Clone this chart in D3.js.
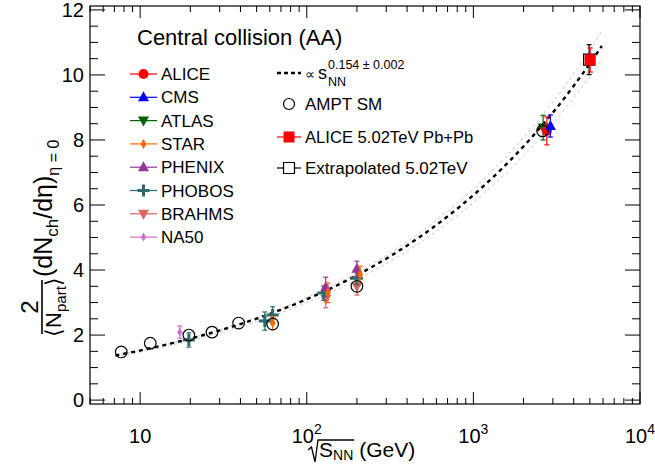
<!DOCTYPE html>
<html><head><meta charset="utf-8">
<script src="https://cdn.jsdelivr.net/npm/d3@7"></script>
<style>body{margin:0;background:#fff}svg{font-family:"Liberation Sans",Arial,Helvetica,sans-serif}</style>
</head><body><svg id="c" width="655" height="465"></svg>
<script>
// ---------- data ----------
const xDomain = [5, 10000];
const yDomain = [-0.12, 12.12];
const xMajorTicks = [10, 100, 1000, 10000];
const xTickExponents = ["", "2", "3", "4"];
const yMajorTicks = [0, 2, 4, 6, 8, 10, 12];

// [sqrt(sNN), value, error]
const aliceData  = [[2760, 8.28, 0.43]];
const cmsData    = [[2900, 8.43, 0.34]];
const atlasData  = [[2620, 8.38, 0.38]];
const starData   = [[62.4, 2.37, 0.2], [134, 3.3, 0.3], [209, 3.86, 0.26]];
const phenixData = [[130, 3.48, 0.3], [200, 4.04, 0.23]];
const phobosData = [[19.6, 1.85, 0.22], [56, 2.43, 0.28], [62.4, 2.62, 0.25], [126, 3.29, 0.22], [200, 3.75, 0.2]];
const brahmsData = [[130, 3.11, 0.27], [200, 3.5, 0.27]];
const na50Data   = [[17.3, 2.09, 0.19]];
const amptData   = [[7.7, 1.48], [11.5, 1.75], [19.6, 2.0], [27, 2.09], [39, 2.37], [62.4, 2.34], [200, 3.5], [2600, 8.28]];
const alice502Data = [[5020, 10.46, 0.37]];
const extrapData   = [[4950, 10.47, 0.46]];

// fit: dN/deta ∝ s^0.154  (= sqrtS^0.308)
const fitNorm = 0.751, fitExp = 0.154, fitRange = [7.1, 5900];
// grey uncertainty curves: [normalisation factor, exponent shift, pivot]
const bandUpper = [1.0, 0.003, 7];
const bandLower = [0.968, -0.0005, 7];

const legendLeft = ["ALICE", "CMS", "ATLAS", "STAR", "PHENIX", "PHOBOS", "BRAHMS", "NA50"];

// ---------- setup ----------
const svg = d3.select("#c");
const L = 90, R = 640, T = 6, B = 404;
const x = d3.scaleLog().domain(xDomain).range([L, R]);
const y = d3.scaleLinear().domain(yDomain).range([B, T]);

const styles = {
  ALICE:  {c: "#ff0000", m: "circle"},
  CMS:    {c: "#0000ff", m: "triUp"},
  ATLAS:  {c: "#006400", m: "triDown"},
  STAR:   {c: "#ff6600", m: "diamond"},
  PHENIX: {c: "#993399", m: "triUp"},
  PHOBOS: {c: "#2f6b6b", m: "cross"},
  BRAHMS: {c: "#d9665f", m: "triDown"},
  NA50:   {c: "#d46ad4", m: "diamondS"}
};
const seriesData = {ALICE: aliceData, CMS: cmsData, ATLAS: atlasData, STAR: starData,
  PHENIX: phenixData, PHOBOS: phobosData, BRAHMS: brahmsData, NA50: na50Data};

function markerPath(m) {
  switch (m) {
    case "circle": return d3.symbol(d3.symbolCircle, 80)();
    case "triUp": return "M0,-6L5.5,4L-5.5,4Z";
    case "triDown": return "M0,6L5.5,-4L-5.5,-4Z";
    case "diamond": return "M0,-5L3,0L0,5L-3,0Z";
    case "diamondS": return "M0,-4.5L2.6,0L0,4.5L-2.6,0Z";
    case "cross": return "M-1.5,-6H1.5V-1.5H6V1.5H1.5V6H-1.5V1.5H-6V-1.5H-1.5Z";
    case "square": return "M-5.5,-5.5H5.5V5.5H-5.5Z";
  }
}

// ---------- frame & axes ----------
const ax = svg.append("g").attr("stroke", "#000").attr("stroke-width", 1);
const xTicksAll = x.ticks().filter(v => v >= xDomain[0] && v <= xDomain[1]);
xTicksAll.forEach(v => {
  const major = xMajorTicks.includes(v);
  const len = major ? 12 : 6;
  ax.append("line").attr("x1", x(v)).attr("x2", x(v)).attr("y1", B).attr("y2", B - len);
  ax.append("line").attr("x1", x(v)).attr("x2", x(v)).attr("y1", T).attr("y2", T + len);
});
const yMinor = d3.range(0, 12.001, 0.5);
yMinor.forEach(v => {
  const major = yMajorTicks.includes(v);
  const len = major ? 15 : 8;
  ax.append("line").attr("x1", L).attr("x2", L + len).attr("y1", y(v)).attr("y2", y(v));
  ax.append("line").attr("x1", R).attr("x2", R - len).attr("y1", y(v)).attr("y2", y(v));
});
svg.append("rect").attr("x", L).attr("y", T).attr("width", R - L).attr("height", B - T)
  .attr("fill", "none").attr("stroke", "#000").attr("stroke-width", 1.2);

// tick labels
svg.append("g").selectAll("text").data(yMajorTicks).join("text")
  .attr("x", L - 6).attr("y", d => y(d) + 7).attr("text-anchor", "end")
  .attr("font-size", 20).text(d => d);
xMajorTicks.forEach((v, i) => {
  const t = svg.append("text").attr("x", x(v)).attr("y", 443).attr("text-anchor", "middle").attr("font-size", 20);
  t.append("tspan").text("10");
  if (xTickExponents[i]) t.append("tspan").attr("font-size", 14).attr("dy", -9).text(xTickExponents[i]);
});

// x-axis title: sqrt(S_NN) (GeV)
{
  const g = svg.append("g");
  const t = g.append("text").attr("x", 319).attr("y", 457).attr("font-size", 21);
  t.append("tspan").text("S");
  t.append("tspan").attr("font-size", 14).attr("dy", 3).text("NN");
  const t2 = g.append("text").attr("y", 457).attr("font-size", 21).text("(GeV)");
  const w = t.node().getComputedTextLength();
  t2.attr("x", 319 + w + 6);
  g.append("path").attr("d", `M308,450 L311.5,447 L315,462 L318,440 L${319 + w + 1},440`)
    .attr("fill", "none").attr("stroke", "#000").attr("stroke-width", 1.3);
}

// y-axis title (rotated)
{
  const g = svg.append("g").attr("transform", "rotate(-90)");
  g.append("text").attr("x", -307).attr("y", 38).attr("text-anchor", "middle").attr("font-size", 24).text("2");
  g.append("line").attr("x1", -334).attr("x2", -280).attr("y1", 42).attr("y2", 42).attr("stroke", "#000").attr("stroke-width", 1.6);
  const d = g.append("text").attr("x", -307).attr("y", 61).attr("text-anchor", "middle").attr("font-size", 22);
  d.append("tspan").text("⟨N");
  d.append("tspan").attr("font-size", 15).attr("dy", 5).text("part");
  d.append("tspan").attr("dy", -5).text("⟩");
  const m = g.append("text").attr("x", -277).attr("y", 52).attr("font-size", 25);
  m.append("tspan").text("(dN");
  m.append("tspan").attr("font-size", 17).attr("dy", 6).text("ch");
  m.append("tspan").attr("dy", -6).text("/dη)");
  m.append("tspan").attr("font-size", 16).attr("dy", 7).text("η = 0");
}

// ---------- fit curves ----------
const fitX = d3.range(0, 201).map(i => fitRange[0] * Math.pow(fitRange[1] / fitRange[0], i / 200));
const fitFn = v => fitNorm * Math.pow(v, 2 * fitExp);
const bandFn = (p) => v => fitFn(v) * p[0] * Math.pow(v / p[2], 2 * p[1]);
const line = f => d3.line().x(v => x(v)).y(v => y(f(v)))(fitX);
[bandUpper, bandLower].forEach(p => {
  svg.append("path").attr("d", line(bandFn(p))).attr("fill", "none")
    .attr("stroke", "#c8c8c8").attr("stroke-width", 1).attr("stroke-dasharray", "3,3");
});
svg.append("path").attr("d", line(fitFn)).attr("fill", "none")
  .attr("stroke", "#000").attr("stroke-width", 2.4).attr("stroke-dasharray", "4,4");

// ---------- data ----------
function errBars(g, data, color) {
  g.selectAll(null).data(data).join("g").each(function(d) {
    const s = d3.select(this), cx = x(d[0]);
    s.append("line").attr("x1", cx).attr("x2", cx).attr("y1", y(d[1] - d[2])).attr("y2", y(d[1] + d[2]))
      .attr("stroke", color).attr("stroke-width", 1.2);
    [d[1] - d[2], d[1] + d[2]].forEach(e => s.append("line").attr("x1", cx - 2.5).attr("x2", cx + 2.5)
      .attr("y1", y(e)).attr("y2", y(e)).attr("stroke", color).attr("stroke-width", 1.2));
  });
}
const dataG = svg.append("g");
errBars(dataG, extrapData, "#000");
dataG.selectAll(null).data(extrapData).join("path").attr("d", markerPath("square"))
  .attr("transform", d => `translate(${x(d[0])},${y(d[1])})`).attr("fill", "none").attr("stroke", "#000").attr("stroke-width", 1.2);

["BRAHMS", "PHOBOS", "PHENIX", "STAR", "NA50", "ATLAS", "ALICE", "CMS"].forEach(k => {
  const st = styles[k];
  errBars(dataG, seriesData[k], st.c);
  dataG.selectAll(null).data(seriesData[k]).join("path").attr("d", markerPath(st.m))
    .attr("transform", d => `translate(${x(d[0])},${y(d[1])})`).attr("fill", st.c);
});
errBars(dataG, alice502Data, "#ff0000");
dataG.selectAll(null).data(alice502Data).join("path").attr("d", markerPath("square"))
  .attr("transform", d => `translate(${x(d[0])},${y(d[1])})`).attr("fill", "#ff0000");
dataG.selectAll(null).data(amptData).join("circle")
  .attr("cx", d => x(d[0])).attr("cy", d => y(d[1])).attr("r", 5.8)
  .attr("fill", "none").attr("stroke", "#000").attr("stroke-width", 1.2);

// ---------- text & legend ----------
svg.append("text").attr("x", 137).attr("y", 45).attr("font-size", 22).text("Central collision (AA)");

const lg = svg.append("g");
legendLeft.forEach((k, i) => {
  const cy = 74 + i * 23.3, st = styles[k];
  lg.append("line").attr("x1", 130).attr("x2", 157).attr("y1", cy).attr("y2", cy).attr("stroke", st.c).attr("stroke-width", 1.2);
  lg.append("path").attr("d", markerPath(st.m)).attr("transform", `translate(143.5,${cy})`).attr("fill", st.c);
  lg.append("text").attr("x", 161).attr("y", cy + 6).attr("font-size", 17).text(k);
});

lg.append("line").attr("x1", 277).attr("x2", 301).attr("y1", 73).attr("y2", 73)
  .attr("stroke", "#000").attr("stroke-width", 2.4).attr("stroke-dasharray", "4,3");
lg.append("text").attr("x", 305).attr("y", 79).attr("font-size", 14).text("∝");
lg.append("text").attr("x", 318).attr("y", 79).attr("font-size", 18).text("s");
lg.append("text").attr("x", 328).attr("y", 69).attr("font-size", 12.5).text("0.154 ± 0.002");
lg.append("text").attr("x", 328).attr("y", 86).attr("font-size", 12.5).text("NN");

lg.append("circle").attr("cx", 289).attr("cy", 104).attr("r", 5.5).attr("fill", "none").attr("stroke", "#000").attr("stroke-width", 1.2);
lg.append("text").attr("x", 305).attr("y", 110).attr("font-size", 17).text("AMPT SM");

lg.append("line").attr("x1", 277).attr("x2", 301).attr("y1", 137).attr("y2", 137).attr("stroke", "#ff0000").attr("stroke-width", 1.2);
lg.append("path").attr("d", markerPath("square")).attr("transform", "translate(289,137)").attr("fill", "#ff0000");
lg.append("text").attr("x", 305).attr("y", 143).attr("font-size", 16.6).text("ALICE 5.02TeV Pb+Pb");

lg.append("line").attr("x1", 277).attr("x2", 301).attr("y1", 168).attr("y2", 168).attr("stroke", "#000").attr("stroke-width", 1.2);
lg.append("path").attr("d", markerPath("square")).attr("transform", "translate(289,168)").attr("fill", "#fff").attr("stroke", "#000").attr("stroke-width", 1.2);
lg.append("text").attr("x", 305).attr("y", 174).attr("font-size", 17).text("Extrapolated 5.02TeV");
</script></body></html>
